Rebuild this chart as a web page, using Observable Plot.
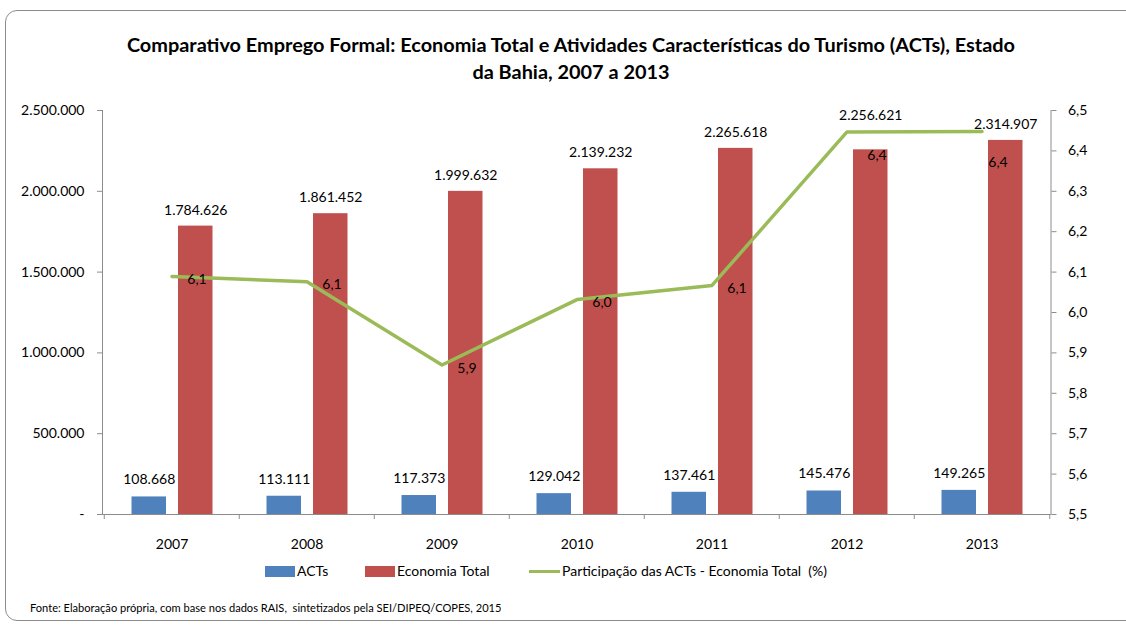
<!DOCTYPE html>
<html>
<head>
<meta charset="utf-8">
<script src="https://cdn.jsdelivr.net/npm/d3@7"></script>
<script src="https://cdn.jsdelivr.net/npm/@observablehq/plot@0.6"></script>
<style>
  html, body { margin: 0; padding: 0; background: #fff; }
  body { width: 1126px; height: 628px; position: relative; overflow: hidden;
         font-family: Lato, "Open Sans", sans-serif; color: #000; }
  #border { position: absolute; left: 5px; top: 10px; width: 1140px; height: 611px;
            border: 1.5px solid #8c8c8c; border-radius: 12px; box-sizing: border-box; }
  #title { position: absolute; left: 0; top: 31px; width: 1126px; padding-left: 16px; box-sizing: border-box;
           text-align: center; font-weight: bold; font-size: 19.9px; line-height: 27px; }
  #chart { position: absolute; left: 0; top: 90px; }
  .leg { position: absolute; top: 562px; font-size: 14px; line-height: 18px; white-space: nowrap; }
  .sw { position: absolute; top: 566px; width: 30px; height: 11px; }
  .ln { position: absolute; top: 570px; width: 31px; height: 3px; background: #9BBB59; }
  #caption { position: absolute; left: 30px; top: 601px; font-size: 11.1px; white-space: nowrap; }
</style>
</head>
<body>
<div id="border"></div>
<div id="title">Comparativo Emprego Formal: Economia Total e Atividades Características do Turismo (ACTs), Estado<br>da Bahia, 2007 a 2013</div>
<div id="chart"></div>
<div class="sw" style="left:265px;background:#4F81BD"></div>
<div class="leg" style="left:297px">ACTs</div>
<div class="sw" style="left:365px;background:#C0504D"></div>
<div class="leg" style="left:397px">Economia Total</div>
<div class="ln" style="left:529px"></div>
<div class="leg" style="left:562px">Participação das ACTs - Economia Total&nbsp; (%)</div>
<div id="caption">Fonte: Elaboração própria, com base nos dados RAIS,&nbsp; sintetizados pela SEI/DIPEQ/COPES, 2015</div>
<script>
const years = ["2007", "2008", "2009", "2010", "2011", "2012", "2013"];
const acts = [108668, 113111, 117373, 129042, 137461, 145476, 149265];
const economia = [1784626, 1861452, 1999632, 2139232, 2265618, 2256621, 2314907];
const participacao = [6.089, 6.076, 5.870, 6.032, 6.067, 6.447, 6.448];
const leftTicks = [0, 500000, 1000000, 1500000, 2000000, 2500000];
const rightTicks = [5.5, 5.6, 5.7, 5.8, 5.9, 6.0, 6.1, 6.2, 6.3, 6.4, 6.5];

const rightMin = 5.5, rightMax = 6.5, leftMax = 2500000;
const toY = p => (p - rightMin) / (rightMax - rightMin) * leftMax;
const fromY = v => v / leftMax * (rightMax - rightMin) + rightMin;

const locale = d3.formatLocale({decimal: ",", thousands: ".", grouping: [3], currency: ["R$", ""]});
const fmtInt = locale.format(",.0f");
const fmt1 = locale.format(".1f");

const rows = years.map((year, i) => ({year, acts: acts[i], economia: economia[i], pct: participacao[i]}));

const font = 'Lato, "Open Sans", sans-serif';
const band = (1126 - 102 - 75.5) / years.length;
const half = band / 2;
const axisColor = "#8c8c8c";

const chart = Plot.plot({
  width: 1126,
  height: 469,
  marginTop: 20,
  marginBottom: 45,
  marginLeft: 102,
  marginRight: 75.5,
  x: {domain: years, padding: 0, label: null},
  y: {domain: [0, leftMax], label: null},
  style: {fontFamily: font, fontSize: "14px", color: "#000", background: "transparent", overflow: "visible"},
  marks: [
    Plot.barY(rows, {x: "year", y: "acts", fill: "#4F81BD", insetLeft: 27.5, insetRight: 73}),
    Plot.barY(rows, {x: "year", y: "economia", fill: "#C0504D", insetLeft: 74, insetRight: 26.5}),
    Plot.ruleY([0], {stroke: axisColor}),
    Plot.frame({anchor: "left", stroke: axisColor}),
    Plot.frame({anchor: "right", stroke: axisColor}),
    Plot.ruleX(years, {x: d => d, dx: -half, insetTop: 399, dy: 5, stroke: axisColor}),
    Plot.ruleX(years.slice(-1), {x: d => d, dx: half, insetTop: 399, dy: 5, stroke: axisColor}),
    Plot.lineY(rows, {x: "year", y: d => toY(d.pct), stroke: "#9BBB59", strokeWidth: 3.5}),
    Plot.text(rows, {x: "year", y: "acts", text: d => fmtInt(d.acts), dx: -22.75, dy: -17}),
    Plot.text(rows.filter(d => d.year !== "2012"), {x: "year", y: "economia", text: d => fmtInt(d.economia), dx: 23.75, dy: -16}),
    Plot.text(rows.filter(d => d.year === "2012"), {x: "year", y: "economia", text: d => fmtInt(d.economia), dx: 23.75, dy: -34}),
    Plot.text(rows.filter(d => +d.year < 2012), {x: "year", y: d => toY(d.pct), text: d => fmt1(d.pct), dx: 25, dy: 3}),
    Plot.text(rows.filter(d => d.year === "2012"), {x: "year", y: d => toY(d.pct), text: d => fmt1(d.pct), dx: 30, dy: 24}),
    Plot.text(rows.filter(d => d.year === "2013"), {x: "year", y: d => toY(d.pct), text: d => fmt1(d.pct), dx: 16, dy: 31}),
    Plot.axisY({ticks: leftTicks, tickFormat: d => d === 0 ? "-" : fmtInt(d), tickSize: 5, tickPadding: 13, stroke: axisColor, fill: "#000"}),
    Plot.axisY({anchor: "right", ticks: rightTicks.map(toY), tickFormat: v => fmt1(fromY(v)), tickSize: 5, tickPadding: 12, stroke: axisColor, fill: "#000"}),
    Plot.axisX({tickSize: 0, tickPadding: 25, fill: "#000"})
  ]
});
document.getElementById("chart").appendChild(chart);
</script>
</body>
</html>
